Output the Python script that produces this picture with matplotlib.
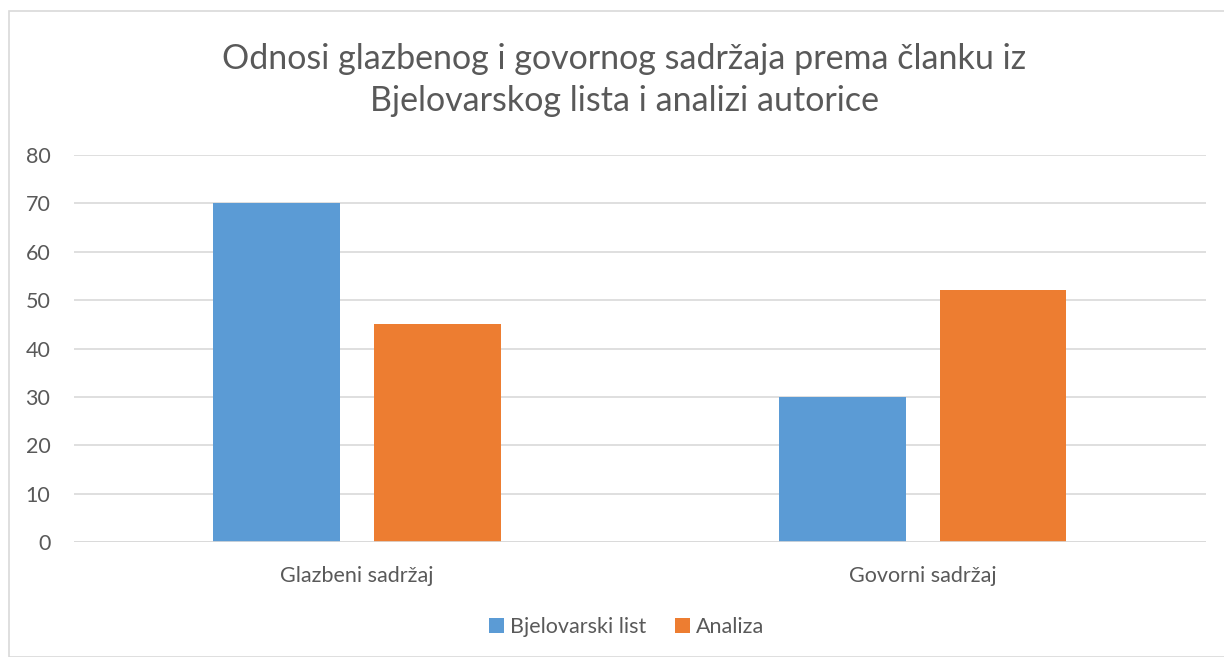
import numpy as np
import matplotlib
matplotlib.use('Agg')
import matplotlib.pyplot as plt
from matplotlib.patches import Rectangle

categories = ['Glazbeni sadržaj', 'Govorni sadržaj']
bjelovarski = [70, 30]
analiza = [45, 52]
series_names = ['Bjelovarski list', 'Analiza']
yticks = [0, 10, 20, 30, 40, 50, 60, 70, 80]

text_col = '#595959'
plt.rcParams['font.family'] = ['Lato', 'DejaVu Sans']

fig = plt.figure(figsize=(12.24, 6.57), dpi=100)
ax = fig.add_axes([0.0605, 0.175, 0.9245, 0.589])

# chart border
fig.patches.append(Rectangle((9/1224, 0), 1.0, 1 - 11/657, transform=fig.transFigure,
                             fill=False, edgecolor='#d9d9d9', linewidth=1.2))

x = np.arange(len(categories))
w = 0.224
off = 0.142
ax.bar(x - off, bjelovarski, w, color='#5B9BD5', label=series_names[0], zorder=3)
ax.bar(x + off, analiza, w, color='#ED7D31', label=series_names[1], zorder=3)

ax.set_xlim(-0.5, 1.5)
ax.set_ylim(0, 80)
ax.set_yticks(yticks)
ax.set_xticks(x)
ax.set_xticklabels(categories)
ax.yaxis.grid(True, color='#d9d9d9', linewidth=1.2, zorder=0)
for s in ax.spines.values():
    s.set_visible(False)
ax.axhline(0, color='#d9d9d9', linewidth=1.2, zorder=4)
ax.tick_params(length=0, labelsize=15.5, colors=text_col)
ax.tick_params(axis='y', pad=17)
ax.tick_params(axis='x', pad=17)

fig.text(0.51, 1 - 80/657, 'Odnosi glazbenog i govornog sadržaja prema članku iz\nBjelovarskog lista i analizi autorice',
         ha='center', va='center', fontsize=24.5, color=text_col, linespacing=1.35)

fig.legend(loc='center', bbox_to_anchor=(0.512, 1 - 627/657), ncol=2, frameon=False,
           fontsize=15.5, labelcolor=text_col, handlelength=0.7, handleheight=0.7,
           handletextpad=0.3, columnspacing=1.3)

fig.savefig('out.png', dpi=100)
